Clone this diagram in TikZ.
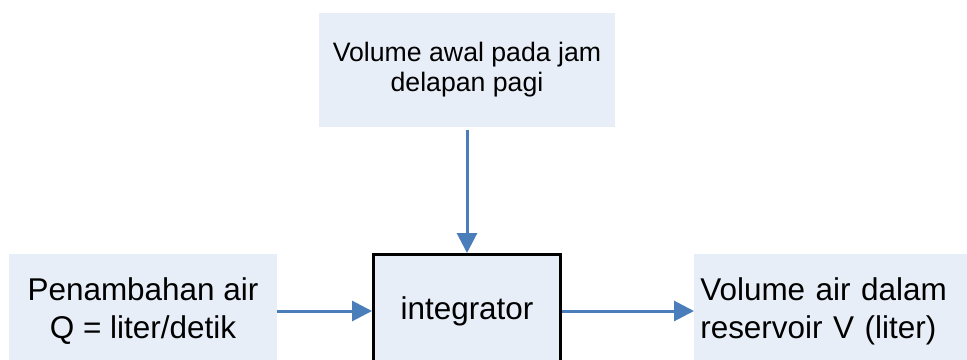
\documentclass[tikz,border=0pt]{standalone}
\usepackage{fontspec}
\setmainfont{Liberation Sans}
\usetikzlibrary{arrows.meta}
\definecolor{boxfill}{HTML}{E8EEF7}
\definecolor{flowblue}{HTML}{4A7EBB}
\tikzstyle{box}=[fill=boxfill, inner sep=0pt, align=center]
\tikzstyle{flow}=[draw=flowblue, line width=2.25pt, -{Triangle[length=15pt,width=15pt]}]

\begin{document}
\begin{tikzpicture}[x=.75pt, y=-.75pt]
  \useasboundingbox (0,0) rectangle (967,360);
  \node[box, minimum width=222pt, minimum height=85.5pt, font=\fontsize{20}{22.5}\selectfont] (awal) at (467,70) {Volume awal pada jam\\delapan pagi};
  \node[box, minimum width=201pt, minimum height=85.5pt, font=\fontsize{23.6}{28.5}\selectfont] (tambah) at (143,311) {Penambahan air\\Q = liter/detik};
  \node[box, draw=black, line width=2.25pt, minimum width=140.25pt, minimum height=84.75pt, font=\fontsize{23.6}{28.5}\selectfont] (integ) at (467,311) {integrator};
  \node[box, anchor=west, align=left, text width=202.5pt, inner xsep=4.5pt, minimum height=85.5pt, font=\fontsize{23.6}{28.5}\selectfont] (volume) at (694,311) {Volume air dalam\\reservoir V (liter)};
  \draw[flow, shorten <=2.25pt] (awal) -- (integ);
  \draw[flow] (tambah) -- (integ);
  \draw[flow] (integ) -- (volume);
\end{tikzpicture}
\end{document}
